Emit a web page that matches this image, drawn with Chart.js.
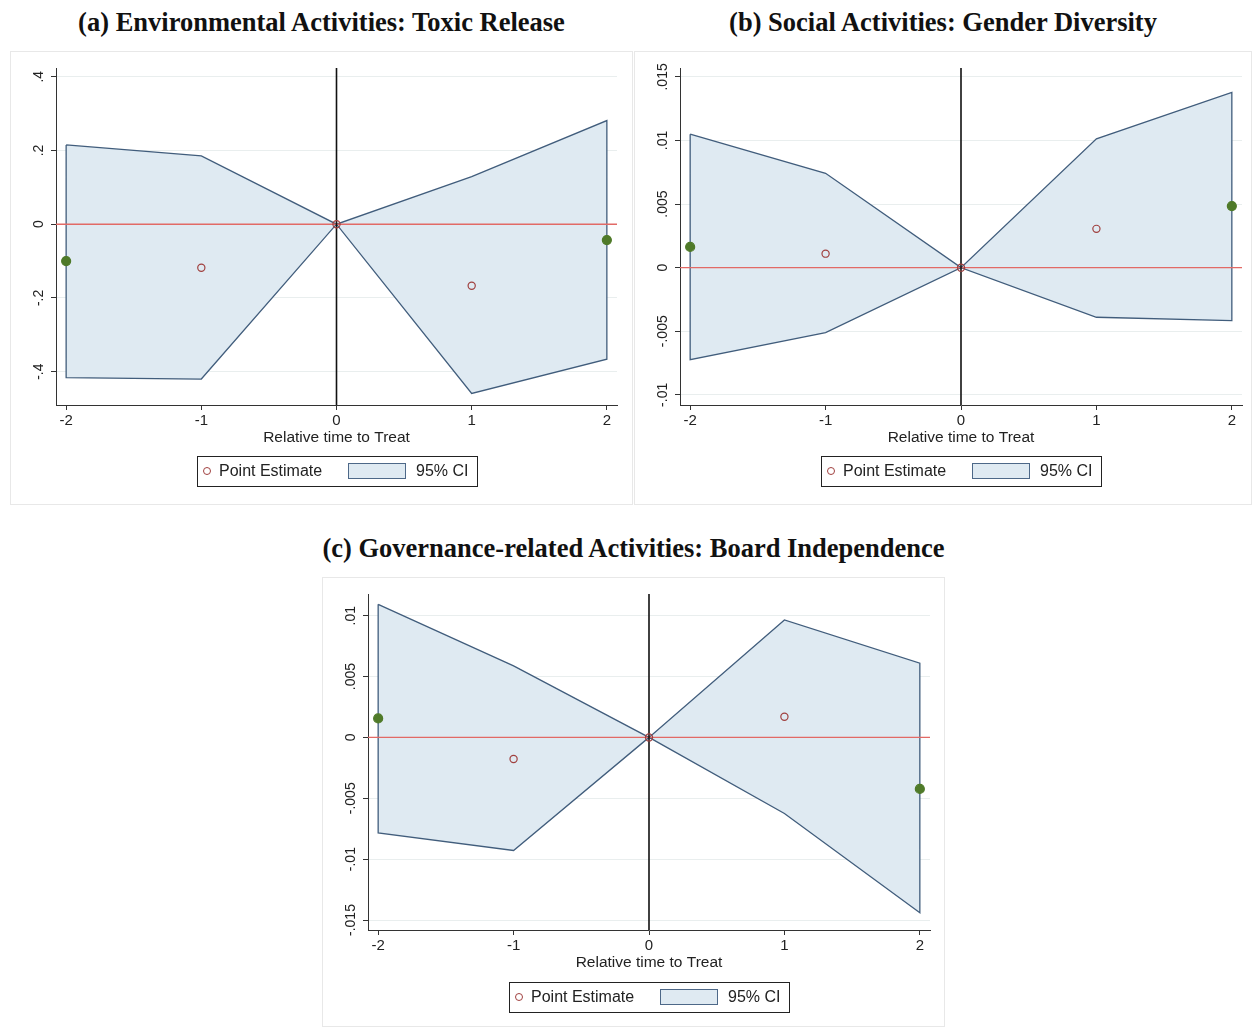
<!DOCTYPE html>
<html>
<head>
<meta charset="utf-8">
<script src="https://cdn.jsdelivr.net/npm/chart.js@4.4.1/dist/chart.umd.min.js"></script>
<style>
  body { margin: 0; background: #fff; width: 1252px; height: 1027px; position: relative; overflow: hidden;
         font-family: "Liberation Sans", Arial, sans-serif; }
  .title { position: absolute; font-family: "Liberation Serif", "Times New Roman", serif; font-weight: bold;
           font-size: 26.5px; line-height: 30px; color: #111; text-align: center; white-space: nowrap; }
  .panel { position: absolute; outline: 1px solid #e8e8e8; outline-offset: -1px; }
  .panel canvas { position: absolute; left: 0; top: 0; }
  .legend { position: absolute; left: 187px; top: 405px; width: 281px; height: 31px; border: 1px solid #222;
            box-sizing: border-box; font-size: 16px; color: #222; }
  .legend .dot { position: absolute; left: 5px; top: 10px; width: 6px; height: 6px; border: 1.3px solid #a0403f; border-radius: 50%; }
  .legend .t1 { position: absolute; left: 21px; top: 5px; }
  .legend .sw { position: absolute; left: 150px; top: 6px; width: 58px; height: 16px; background: #dfeaf2;
                border: 1.5px solid #4d6888; box-sizing: border-box; }
  .legend .t2 { position: absolute; left: 218px; top: 5px; }
</style>
</head>
<body>
<div class="title" style="left:10px;width:623px;top:7px;">(a) Environmental Activities: Toxic Release</div>
<div class="title" style="left:634px;width:618px;top:7px;">(b) Social Activities: Gender Diversity</div>
<div class="title" style="left:322px;width:623px;top:533px;">(c) Governance-related Activities: Board Independence</div>

<div class="panel" style="left:10px;top:51px;width:623px;height:454px;">
  <canvas id="cA" width="623" height="454"></canvas>
  <div class="legend"><span class="dot"></span><span class="t1">Point Estimate</span><span class="sw"></span><span class="t2">95% CI</span></div>
</div>
<div class="panel" style="left:634px;top:51px;width:618px;height:454px;">
  <canvas id="cB" width="618" height="454"></canvas>
  <div class="legend"><span class="dot"></span><span class="t1">Point Estimate</span><span class="sw"></span><span class="t2">95% CI</span></div>
</div>
<div class="panel" style="left:322px;top:577px;width:623px;height:450px;">
  <canvas id="cC" width="623" height="450"></canvas>
  <div class="legend"><span class="dot"></span><span class="t1">Point Estimate</span><span class="sw"></span><span class="t2">95% CI</span></div>
</div>

<script>
// relative time to treatment
var X_CATS = [-2, -1, 0, 1, 2];
var X_LABELS = ["-2", "-1", "0", "1", "2"];

// (a) toxic release
var A_EST = [-0.100, -0.118, 0, -0.167, -0.043];
var A_UPPER = [0.215, 0.185, 0, 0.129, 0.281];
var A_LOWER = [-0.416, -0.420, 0, -0.459, -0.366];
var A_YTICKS = [-0.4, -0.2, 0, 0.2, 0.4];
var A_YLABELS = ["-.4", "-.2", "0", ".2", ".4"];

// (b) gender diversity
var B_EST = [0.00163, 0.0011, 0, 0.00305, 0.00484];
var B_UPPER = [0.0105, 0.00742, 0, 0.01013, 0.01379];
var B_LOWER = [-0.00724, -0.0051, 0, -0.0039, -0.00416];
var B_YTICKS = [-0.01, -0.005, 0, 0.005, 0.01, 0.015];
var B_YLABELS = ["-.01", "-.005", "0", ".005", ".01", ".015"];

// (c) board independence
var C_EST = [0.00156, -0.00177, 0, 0.0017, -0.00423];
var C_UPPER = [0.01093, 0.00588, 0, 0.00965, 0.0061];
var C_LOWER = [-0.00784, -0.00929, 0, -0.00625, -0.0144];
var C_YTICKS = [-0.015, -0.01, -0.005, 0, 0.005, 0.01];
var C_YLABELS = ["-.015", "-.01", "-.005", "0", ".005", ".01"];

var X_MIN = -2.075, X_MAX = 2.075;
var FONT = "'Liberation Sans', Arial, sans-serif";
var RED = "#a0403f", GREEN = "#4f7a29";

Chart.defaults.font.family = FONT;

function pts(xs, ys) {
  return xs.map(function (x, i) { return { x: x, y: ys[i] }; });
}

// rotated y tick labels, Stata style
function yLabelPlugin(values, labels) {
  return {
    id: "yRotLabels",
    afterDraw: function (chart) {
      var sc = chart.scales.y, ctx = chart.ctx;
      ctx.save();
      ctx.font = "14px " + FONT;
      ctx.fillStyle = "#222";
      ctx.textAlign = "center";
      ctx.textBaseline = "middle";
      values.forEach(function (v, i) {
        ctx.save();
        ctx.translate(sc.right - 17, sc.getPixelForValue(v));
        ctx.rotate(-Math.PI / 2);
        ctx.fillText(labels[i], 0, 0);
        ctx.restore();
      });
      ctx.restore();
    }
  };
}

function panelChart(id, est, upper, lower, yTicks, yLabels, yMin, yMax, pad) {
  var band = pts(X_CATS, upper).concat(pts(X_CATS, lower).reverse());
  band.push(band[0]);
  var isEnd = function (c) { return c.raw && Math.abs(c.raw.x) === 2; };

  return new Chart(document.getElementById(id), {
    type: "scatter",
    data: {
      datasets: [
        { label: "Point Estimate", data: pts(X_CATS, est), order: 0,
          pointRadius: function (c) { return isEnd(c) ? 4.5 : 3.6; },
          pointBackgroundColor: function (c) { return isEnd(c) ? GREEN : "rgba(0,0,0,0)"; },
          pointBorderColor: function (c) { return isEnd(c) ? GREEN : RED; },
          pointBorderWidth: 1.2 },
        { label: "xline", data: [{ x: 0, y: yMin }, { x: 0, y: yMax }], order: 1,
          showLine: true, pointRadius: 0, borderColor: "#111", borderWidth: 1.6 },
        { label: "yline", data: [{ x: X_MIN, y: 0 }, { x: X_MAX, y: 0 }], order: 2,
          showLine: true, pointRadius: 0, borderColor: "#e26a66", borderWidth: 1.4 },
        { label: "95% CI", data: band, order: 3, showLine: true, pointRadius: 0,
          borderColor: "#415d7c", borderWidth: 1.3, backgroundColor: "#dfeaf2", fill: "shape",
          tension: 0 }
      ]
    },
    options: {
      responsive: false,
      animation: false,
      events: [],
      layout: { padding: pad },
      plugins: { legend: { display: false }, tooltip: { enabled: false } },
      scales: {
        x: {
          type: "linear", min: X_MIN, max: X_MAX,
          afterBuildTicks: function (s) { s.ticks = X_CATS.map(function (v) { return { value: v }; }); },
          afterFit: function (s) { s.height = 42; },
          ticks: { color: "#222", font: { size: 15 }, padding: 2,
                   callback: function (v, i) { return X_LABELS[i]; } },
          grid: { drawOnChartArea: false, drawTicks: true, tickLength: 5, tickColor: "#333" },
          border: { display: true, color: "#333", width: 1 },
          title: { display: true, text: "Relative time to Treat", color: "#222",
                   font: { size: 15.5 }, padding: 0 }
        },
        y: {
          type: "linear", min: yMin, max: yMax,
          afterBuildTicks: function (s) { s.ticks = yTicks.map(function (v) { return { value: v }; }); },
          afterFit: function (s) { s.width = 46; },
          ticks: { display: false },
          grid: { color: "#e9eeee", lineWidth: 1, drawTicks: true, tickLength: 5, tickColor: "#333" },
          border: { display: true, color: "#333", width: 1 }
        }
      }
    },
    plugins: [yLabelPlugin(yTicks, yLabels)]
  });
}

panelChart("cA", A_EST, A_UPPER, A_LOWER, A_YTICKS, A_YLABELS, -0.4904, 0.4236,
           { left: 0, top: 17, right: 16, bottom: 58 });
panelChart("cB", B_EST, B_UPPER, B_LOWER, B_YTICKS, B_YLABELS, -0.0108, 0.0157,
           { left: 0, top: 17, right: 10, bottom: 58 });
panelChart("cC", C_EST, C_UPPER, C_LOWER, C_YTICKS, C_YLABELS, -0.01582, 0.01178,
           { left: 0, top: 17, right: 15, bottom: 55 });
</script>
</body>
</html>
